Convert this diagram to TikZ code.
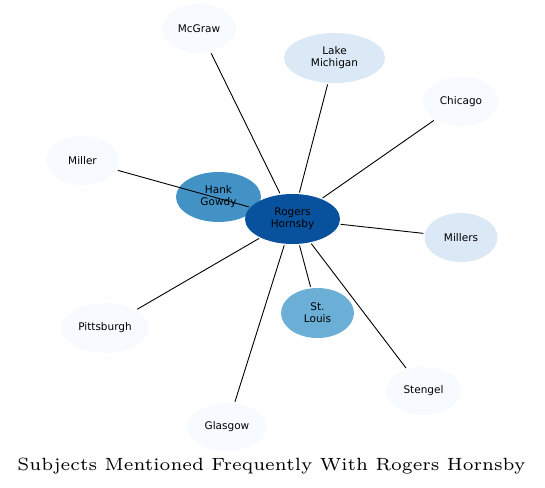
\documentclass[tikz,border=0pt]{standalone}
\usepackage{fontspec}
\newfontfamily\dejavu{DejaVu Sans}
\usetikzlibrary{shapes.geometric}
\definecolor{cdark}{HTML}{08519C}
\definecolor{cmid}{HTML}{4292C6}
\definecolor{cmidl}{HTML}{6BAED6}
\definecolor{clight}{HTML}{DBE9F6}
\definecolor{cpale}{HTML}{F7FBFF}
\tikzset{
  ent/.style={ellipse, inner sep=0pt, draw=none, align=center,
    font=\dejavu\fontsize{10.5}{12}\selectfont, text=black},
  link/.style={draw=black, line width=0.9pt, shorten <=1.5pt, shorten >=1.5pt},
}
\begin{document}
\begin{tikzpicture}[x=1pt,y=-1pt]
\useasboundingbox (0,0) rectangle (545,487);
\node[ent, fill=cpale, minimum width=74pt, minimum height=49pt] (mcgraw) at (199,28.5) {McGraw};
\node[ent, fill=clight, minimum width=101pt, minimum height=50pt] (lake) at (334.5,58) {Lake\\Michigan};
\node[ent, fill=cpale, minimum width=76pt, minimum height=49pt] (chicago) at (461,101.5) {Chicago};
\node[ent, fill=cpale, minimum width=73pt, minimum height=49pt] (miller) at (82.5,160.5) {Miller};
\node[ent, fill=cmid, minimum width=85pt, minimum height=50pt] (gowdy) at (218.5,197) {Hank\\Gowdy};
\node[ent, fill=cdark, minimum width=95pt, minimum height=50pt] (rogers) at (292.5,219) {Rogers\\Hornsby};
\node[ent, fill=clight, minimum width=73pt, minimum height=49pt] (millers) at (461,237.5) {Millers};
\node[ent, fill=cpale, minimum width=88pt, minimum height=50pt] (pitt) at (105,328) {Pittsburgh};
\node[ent, fill=cmidl, minimum width=73pt, minimum height=50pt] (stl) at (317.5,313) {St.\\Louis};
\node[ent, fill=cpale, minimum width=75pt, minimum height=48pt] (stengel) at (423.5,391) {Stengel};
\node[ent, fill=cpale, minimum width=80pt, minimum height=48pt] (glasgow) at (227,427) {Glasgow};
\draw[link] (rogers) -- (mcgraw);
\draw[link] (rogers) -- (lake);
\draw[link] (rogers) -- (chicago);
\draw[link] (rogers) -- (miller);
\draw[link] (rogers) -- (millers);
\draw[link] (rogers) -- (pitt);
\draw[link] (rogers) -- (stl);
\draw[link] (rogers) -- (stengel);
\draw[link] (rogers) -- (glasgow);
\node[inner sep=0pt] (title) at (271.5,466) {\scalebox{2.95}{\fontencoding{TU}\fontfamily{lmr}\fontsize{6}{7}\selectfont Subjects Mentioned Frequently With Rogers Hornsby}};
\end{tikzpicture}
\end{document}
